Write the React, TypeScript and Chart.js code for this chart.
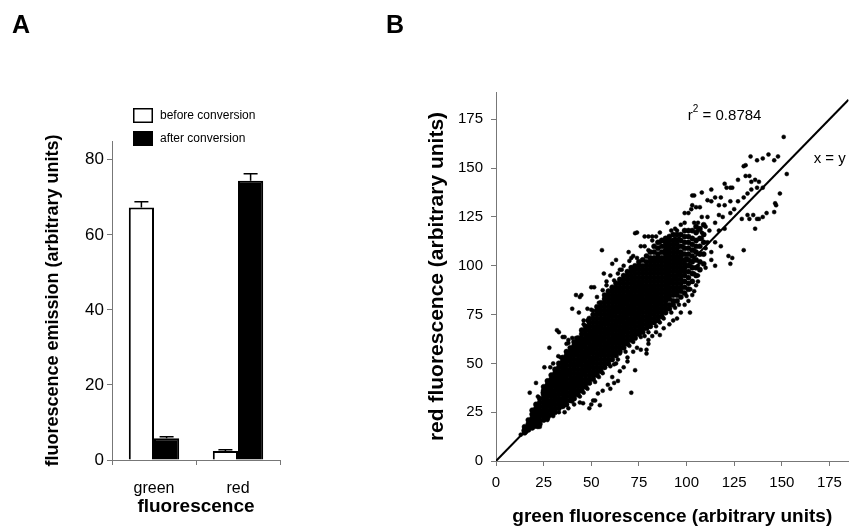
import React, { useEffect, useRef } from "react";
import { Chart, registerables } from "chart.js";

Chart.register(...registerables);

const FONT = "'Liberation Sans', Arial, Helvetica, sans-serif";

// ---------- Panel A data ----------
const barCategories = ["green", "red"];
const beforeLabel = "before conversion";
const afterLabel = "after conversion";
const beforeValues = [67.3, 2.4];
const beforeErrors = [1.5, 0.3];
const afterValues = [5.8, 74.4];
const afterErrors = [0.4, 1.9];

// ---------- Panel B data ----------
const coreGreen = [
  15, 17, 19, 21, 23, 25, 27, 29, 31, 33, 35, 37, 39, 41, 43, 45, 47, 49, 51, 53, 55, 57, 59, 61, 63, 65,
  67, 69, 71, 73, 75, 77, 79, 81, 83, 85, 87, 89, 91, 93, 95, 97, 99, 101, 103, 105, 107, 109,
];
const coreRed: number[][] = [
  [14.5, 16, 17.5],
  [16, 17.5, 19, 21],
  [17, 18.5, 20, 22, 24, 26],
  [18, 20, 21.5, 23, 25, 27, 29],
  [19, 21, 23, 24.5, 26, 28, 30, 32],
  [21, 23, 25, 26.5, 28, 30, 32, 34, 36, 38],
  [22, 24, 26, 28, 29.5, 31, 33, 35, 37, 39, 41],
  [24, 26, 27.5, 29, 31, 33, 34.5, 36, 38, 40, 42, 44],
  [25, 27, 29, 31, 32.5, 34, 36, 38, 39.5, 41, 43, 45, 47],
  [27, 29, 30.5, 32, 34, 36, 37.5, 39, 41, 43, 44.5, 46, 48, 50],
  [28, 30, 32, 34, 35.5, 37, 39, 41, 42.5, 44, 46, 48, 49.5, 51, 53],
  [29, 31, 33, 35, 37, 38.5, 40, 42, 44, 45.5, 47, 49, 51, 52.5, 54, 56],
  [31, 33, 35, 37, 38.5, 40, 42, 44, 45.5, 47, 49, 51, 52.5, 54, 56, 58],
  [32, 34, 36, 38, 40, 41.5, 43, 45, 47, 48.5, 50, 52, 54, 55.5, 57, 59, 61],
  [34, 36, 38, 40, 42, 43.5, 45, 47, 49, 50.5, 52, 54, 56, 57.5, 59, 61, 63],
  [36, 38, 40, 42, 44, 45.5, 47, 49, 51, 52.5, 54, 56, 58, 59.5, 61, 63, 65, 67],
  [38, 40, 42, 44, 46, 47.5, 49, 51, 53, 54.5, 56, 58, 60, 61.5, 63, 65, 67, 69],
  [40, 42, 44, 46, 48, 49.5, 51, 53, 55, 56.5, 58, 60, 62, 63.5, 65, 67, 69, 71, 73],
  [42, 44, 46, 48, 50, 51.5, 53, 55, 57, 58.5, 60, 62, 64, 65.5, 67, 69, 71, 73, 75],
  [44, 46, 48, 50, 52, 53.5, 55, 57, 59, 60.5, 62, 64, 66, 67.5, 69, 71, 73, 75, 77, 79],
  [46, 48, 50, 52, 54, 55.5, 57, 59, 61, 62.5, 64, 66, 68, 69.5, 71, 73, 75, 77, 79, 81],
  [48, 50, 52, 54, 56, 57.5, 59, 61, 63, 64.5, 66, 68, 70, 71.5, 73, 75, 77, 79, 81, 83, 85],
  [50, 52, 54, 56, 58, 59.5, 61, 63, 65, 66.5, 68, 70, 72, 73.5, 75, 77, 79, 81, 83, 85, 87],
  [52, 54, 56, 58, 60, 61.5, 63, 65, 67, 68.5, 70, 72, 74, 75.5, 77, 79, 81, 83, 85, 87, 89],
  [54, 56, 58, 60, 62, 63.5, 65, 67, 69, 70.5, 72, 74, 76, 77.5, 79, 81, 83, 85, 87, 89, 91],
  [56, 58, 60, 62, 64, 65.5, 67, 69, 71, 72.5, 74, 76, 78, 79.5, 81, 83, 85, 87, 89, 91, 93],
  [58, 60, 62, 64, 66, 67.5, 69, 71, 73, 74.5, 76, 78, 80, 81.5, 83, 85, 87, 89, 91, 93, 95],
  [60, 62, 64, 66, 68, 69.5, 71, 73, 75, 76.5, 78, 80, 82, 83.5, 85, 87, 89, 91, 93, 95, 97],
  [62, 64, 66, 68, 70, 71.5, 73, 75, 77, 78.5, 80, 82, 84, 85.5, 87, 89, 91, 93, 95, 97, 99],
  [63, 65, 67, 69, 71, 73, 74.5, 76, 78, 80, 81.5, 83, 85, 87, 88.5, 90, 92, 94, 96, 98, 100],
  [65, 67, 69, 71, 73, 75, 76.5, 78, 80, 82, 83.5, 85, 87, 89, 90.5, 92, 94, 96, 98, 100, 102],
  [66, 68, 70, 72, 74, 76, 78, 79.5, 81, 83, 85, 86.5, 88, 90, 92, 94, 96, 98, 100, 103],
  [68, 70, 72, 74, 76, 78, 80, 81.5, 83, 85, 87, 88.5, 90, 92, 94, 96, 98, 100, 102, 105],
  [69, 71, 73, 75, 77, 79, 81, 83, 84.5, 86, 88, 90, 92, 94, 96, 98, 100, 102, 104, 107],
  [71, 73, 75, 77, 79, 81, 83, 85, 87, 88.5, 90, 92, 94, 96, 98, 100, 102, 104, 107, 110],
  [72, 74, 76, 78, 80, 82, 84, 86, 88, 90, 92, 94, 96, 98, 100, 102, 104, 106, 109, 112],
  [74, 76, 78, 80, 82, 84, 86, 88, 90, 92, 94, 96, 98, 100, 102, 104, 107, 110, 113],
  [76, 78, 80, 82, 84, 86, 88, 90, 92, 94, 96, 98, 100, 102, 104, 106, 108, 110, 112, 114],
  [78, 80, 83, 85, 87, 89, 91, 93, 95, 97, 99, 101, 103, 105, 107, 109, 111, 113, 115],
  [80, 82, 85, 87, 89, 91, 93, 95, 97, 99, 101, 103, 105, 107, 109, 111, 113, 116],
  [82, 85, 87, 89, 91, 93, 95, 97, 99, 101, 103, 105, 107, 109, 111, 113, 116],
  [84, 87, 89, 91, 93, 95, 97, 99, 101, 103, 105, 107, 110, 113, 116],
  [86, 89, 92, 95, 97, 99, 101, 103, 106, 109, 112, 115, 118],
  [88, 91, 94, 97, 100, 103, 106, 109, 112, 115, 118],
  [92, 96, 99, 102, 105, 108, 111, 114, 118],
  [95, 99, 103, 107, 110, 113, 117, 120],
  [98, 102, 106, 110, 114, 119],
  [101, 106, 112, 116, 121],
];
const sparsePoints: [number, number][] = [
  [13, 13.5], [14.5, 15.5], [16, 15], [18, 17], [20, 17.5], [22, 17.4], [23, 17.5], [25, 21], [27, 21], [28, 23],
  [30, 23.5], [33, 25], [36, 25], [38, 27], [41, 29], [44, 30], [45.7, 29.6], [49, 27], [50, 29], [51, 31],
  [52, 31], [54.5, 28.6], [53.5, 34.6], [56, 36], [58.7, 39], [60, 37], [61, 43], [62, 40], [64, 41], [65, 46],
  [63, 50], [65, 55], [67, 48], [69, 51], [69, 53], [71, 35], [73, 46.5], [72, 56], [74, 58], [76, 57],
  [79, 55], [79, 57], [80, 60], [80, 62], [82, 64], [84, 66], [86, 64.5], [88, 68], [91, 70], [93, 72],
  [95, 73], [97, 76], [99, 80], [101, 82], [101.8, 76], [103, 85], [104, 87], [105, 90], [106, 92],
  [17.7, 35], [21, 40], [22, 33], [24.5, 35], [25.4, 48], [28, 58], [28.5, 48], [30, 50], [32, 67], [32.7, 53.7],
  [33, 66], [35, 63.5], [36, 63.5], [37, 60], [38, 62], [40, 78], [42, 85], [43.5, 76], [44, 84], [44.8, 85],
  [46, 72], [48, 78], [50, 89], [51, 77], [51.5, 89], [53, 84], [55.6, 108], [56.6, 96], [58, 92], [60, 95],
  [61, 101], [63, 103], [65, 98], [67, 100], [69.6, 107], [71, 104], [73, 116.7], [74, 117], [76, 110], [78, 115],
  [80, 115], [82, 115], [84, 115], [86, 112], [89, 111], [90, 122], [92, 118], [95, 118], [94, 119], [97, 121],
  [99, 122], [99, 127], [101, 127], [102.5, 129], [103, 131], [103, 136], [104, 136], [105, 130], [106, 122], [107, 130],
  [108, 137.5], [104, 122], [108, 125], [111, 125], [111, 133.6], [113, 133], [113, 139], [115, 135], [117, 131], [118, 135],
  [120, 131], [120, 142], [121, 140], [123, 140], [123, 133], [124, 140], [127, 133], [127, 144], [130, 151], [131, 146],
  [131, 151.5], [133, 146], [133.6, 156], [134, 143], [136, 144], [137, 154], [138, 143], [137, 140], [140, 140], [140, 155],
  [143, 157], [146, 154], [148, 156], [151, 166], [152.6, 147], [149, 137], [146.5, 132], [147, 131], [146, 127.5], [142, 127],
  [140, 125], [138, 124], [137, 124], [135, 126], [133, 124], [132, 126], [129, 124], [136, 119], [130, 135], [132, 137],
  [134, 139], [125, 129], [123, 127], [119, 125], [117, 126], [115, 122], [112, 118], [110, 120], [106, 118], [108, 117],
  [117, 118], [120, 119], [130, 108], [124, 104], [122, 105], [118, 110], [115, 112], [113, 103], [115, 100], [108, 106],
  [110, 109], [106, 100], [108, 114], [123, 101], [113, 107], [111, 112], [104, 96], [102, 100], [104, 108], [100, 104],
  [98, 110], [96, 114], [94, 114],
  [34, 53], [38, 60.5], [42, 63], [46, 70], [50, 77.5], [54, 81], [58, 90], [62, 92.5], [66, 98], [70, 102.5],
  [74, 104], [78, 110], [82, 113], [86, 117], [40, 63], [48, 72], [56, 87.5], [64, 96], [72, 105], [80, 108],
  [30, 23], [36, 28.5], [40, 30.5], [44, 33], [48, 37], [52, 40.5], [56, 45], [60, 48.5], [64, 52], [68, 56],
  [72, 61], [76, 63.5], [80, 66], [84, 69], [88, 73], [92, 76], [96, 80], [100, 84.5], [46, 35], [54, 43],
  [62, 49.5], [70, 59], [78, 64], [86, 71], [94, 78.5], [102, 88], [106, 95], [110, 99],
];
const identityLine = [0, 185];
const r2Text = "0.8784";

// ---------- Plugins ----------
const panelAPlugin = {
  id: "panelA",
  afterDatasetsDraw(chart: any) {
    const ctx = chart.ctx;
    const ys = chart.scales.y;
    const errs = [beforeErrors, afterErrors];
    ctx.save();
    ctx.strokeStyle = "#000";
    ctx.lineWidth = 1.5;
    chart.data.datasets.forEach((ds: any, i: number) => {
      const meta = chart.getDatasetMeta(i);
      meta.data.forEach((bar: any, j: number) => {
        const v = ds.data[j];
        const top = ys.getPixelForValue(v + errs[i][j]);
        const base = ys.getPixelForValue(v);
        ctx.beginPath();
        ctx.moveTo(bar.x, base);
        ctx.lineTo(bar.x, top);
        ctx.moveTo(bar.x - 7, top);
        ctx.lineTo(bar.x + 7, top);
        ctx.stroke();
      });
    });
    ctx.restore();
  },
  afterDraw(chart: any) {
    const ctx = chart.ctx;
    const ca = chart.chartArea;
    ctx.save();
    const bx = ca.left + 21;
    const rows = [
      { y: ca.top - 33, fill: "#fff", label: chart.data.datasets[0].label },
      { y: ca.top - 10, fill: "#000", label: chart.data.datasets[1].label },
    ];
    rows.forEach((r) => {
      ctx.fillStyle = r.fill;
      ctx.fillRect(bx, r.y, 20, 15);
      ctx.strokeStyle = "#000";
      ctx.lineWidth = 1.5;
      ctx.strokeRect(bx + 0.75, r.y + 0.75, 18.5, 13.5);
      ctx.fillStyle = "#000";
      ctx.font = `12px ${FONT}`;
      ctx.textBaseline = "middle";
      ctx.textAlign = "left";
      ctx.fillText(r.label, bx + 27, r.y + 7.5);
    });
    ctx.font = `bold 25px ${FONT}`;
    ctx.textBaseline = "alphabetic";
    ctx.fillText("A", 12, 33);
    ctx.restore();
  },
};

const panelBPlugin = {
  id: "panelB",
  afterDraw(chart: any) {
    const ctx = chart.ctx;
    const xs = chart.scales.x;
    const ys = chart.scales.y;
    ctx.save();
    ctx.fillStyle = "#000";
    ctx.textAlign = "left";
    ctx.textBaseline = "middle";
    const rx = xs.getPixelForValue(100.7);
    const ry = ys.getPixelForValue(177);
    ctx.font = `15px ${FONT}`;
    ctx.fillText("r", rx, ry);
    const w1 = ctx.measureText("r").width;
    ctx.font = `10px ${FONT}`;
    ctx.fillText("2", rx + w1, ry - 6);
    const w2 = ctx.measureText("2").width;
    ctx.font = `15px ${FONT}`;
    ctx.fillText(" = " + r2Text, rx + w1 + w2, ry);
    ctx.fillText("x = y", xs.getPixelForValue(166.7), ys.getPixelForValue(155));
    ctx.font = `bold 25px ${FONT}`;
    ctx.textBaseline = "alphabetic";
    ctx.fillText("B", 66, 33);
    ctx.restore();
  },
};

export default function App() {
  const aRef = useRef<HTMLCanvasElement>(null);
  const bRef = useRef<HTMLCanvasElement>(null);

  useEffect(() => {
    const axisColor = "#777";
    const chartA = new Chart(aRef.current as HTMLCanvasElement, {
      type: "bar",
      data: {
        labels: barCategories,
        datasets: [
          {
            label: beforeLabel,
            data: beforeValues,
            backgroundColor: "#fff",
            borderColor: "#000",
            borderWidth: 2,
            categoryPercentage: 0.6,
            barPercentage: 1,
          },
          {
            label: afterLabel,
            data: afterValues,
            backgroundColor: "#000",
            borderColor: "#000",
            borderWidth: 2,
            categoryPercentage: 0.6,
            barPercentage: 1,
          },
        ],
      },
      options: {
        responsive: false,
        animation: false,
        devicePixelRatio: 1,
        layout: { padding: { top: 141, right: 40, left: 0, bottom: 0 } },
        plugins: { legend: { display: false }, tooltip: { enabled: false } },
        scales: {
          x: {
            grid: { drawOnChartArea: false, drawTicks: true, tickLength: 5, offset: true, color: axisColor },
            border: { color: axisColor, width: 1 },
            ticks: { font: { family: FONT, size: 16 }, color: "#000", padding: 14, maxRotation: 0 },
            title: {
              display: true,
              text: "fluorescence",
              color: "#000",
              font: { family: FONT, size: 19, weight: "bold" },
              padding: { top: 0, bottom: 11 },
            },
            afterFit(s: any) {
              s.height = 69;
            },
          },
          y: {
            min: 0,
            max: 85,
            grid: { drawOnChartArea: false, drawTicks: true, tickLength: 5, color: axisColor },
            border: { color: axisColor, width: 1 },
            ticks: { stepSize: 20, includeBounds: false, font: { family: FONT, size: 17 }, color: "#000", padding: 3 },
            title: {
              display: true,
              text: "fluorescence emission (arbitrary units)",
              color: "#000",
              font: { family: FONT, size: 18, weight: "bold" },
              padding: { top: 42, bottom: 0 },
            },
            afterFit(s: any) {
              s.width = 112;
            },
          },
        },
      } as any,
      plugins: [panelAPlugin],
    });

    const corePoints: { x: number; y: number }[] = [];
    coreGreen.forEach((g, i) => {
      coreRed[i].forEach((r) => corePoints.push({ x: g, y: r }));
    });
    const outerPoints = sparsePoints.map(([g, r]) => ({ x: g, y: r }));

    const chartB = new Chart(bRef.current as HTMLCanvasElement, {
      type: "scatter",
      data: {
        datasets: [
          {
            data: corePoints,
            pointRadius: 2.6,
            pointBackgroundColor: "#000",
            pointBorderColor: "#000",
            pointBorderWidth: 0.5,
            showLine: false,
          },
          {
            data: outerPoints,
            pointRadius: 2,
            pointBackgroundColor: "#000",
            pointBorderColor: "#000",
            pointBorderWidth: 0.5,
            showLine: false,
          },
          {
            type: "line",
            data: identityLine.map((v) => ({ x: v, y: v })),
            borderColor: "#000",
            borderWidth: 2,
            pointRadius: 0,
            showLine: true,
            fill: false,
          },
        ],
      } as any,
      options: {
        responsive: false,
        animation: false,
        devicePixelRatio: 1,
        layout: { padding: { top: 92, right: 0, left: 0, bottom: 0 } },
        plugins: { legend: { display: false }, tooltip: { enabled: false } },
        scales: {
          x: {
            type: "linear",
            min: 0,
            max: 185,
            grid: { drawOnChartArea: false, drawTicks: true, tickLength: 5, color: axisColor },
            border: { color: axisColor, width: 1 },
            ticks: {
              stepSize: 25,
              includeBounds: false,
              autoSkip: false,
              maxRotation: 0,
              font: { family: FONT, size: 15 },
              color: "#000",
              padding: 8,
            },
            title: {
              display: true,
              text: "green fluorescence (arbitrary units)",
              color: "#000",
              font: { family: FONT, size: 19, weight: "bold" },
              padding: { top: 0, bottom: 1 },
            },
            afterFit(s: any) {
              s.height = 68;
            },
          },
          y: {
            type: "linear",
            min: 0,
            max: 189,
            grid: { drawOnChartArea: false, drawTicks: true, tickLength: 5, color: axisColor },
            border: { color: axisColor, width: 1 },
            ticks: {
              stepSize: 25,
              includeBounds: false,
              autoSkip: false,
              font: { family: FONT, size: 15 },
              color: "#000",
              padding: 8,
            },
            title: {
              display: true,
              text: "red fluorescence (arbitrary units)",
              color: "#000",
              font: { family: FONT, size: 21, weight: "bold" },
              padding: { top: 105, bottom: 0 },
            },
            afterFit(s: any) {
              s.width = 176;
            },
          },
        },
      } as any,
      plugins: [panelBPlugin],
    });

    return () => {
      chartA.destroy();
      chartB.destroy();
    };
  }, []);

  return (
    <div
      style={{
        position: "fixed",
        left: 0,
        top: 0,
        width: 853,
        height: 529,
        background: "#fff",
        overflow: "hidden",
      }}
    >
      <canvas
        ref={aRef}
        width={320}
        height={529}
        style={{ position: "absolute", left: 0, top: 0, width: 320, height: 529 }}
      />
      <canvas
        ref={bRef}
        width={533}
        height={529}
        style={{ position: "absolute", left: 320, top: 0, width: 533, height: 529 }}
      />
    </div>
  );
}
